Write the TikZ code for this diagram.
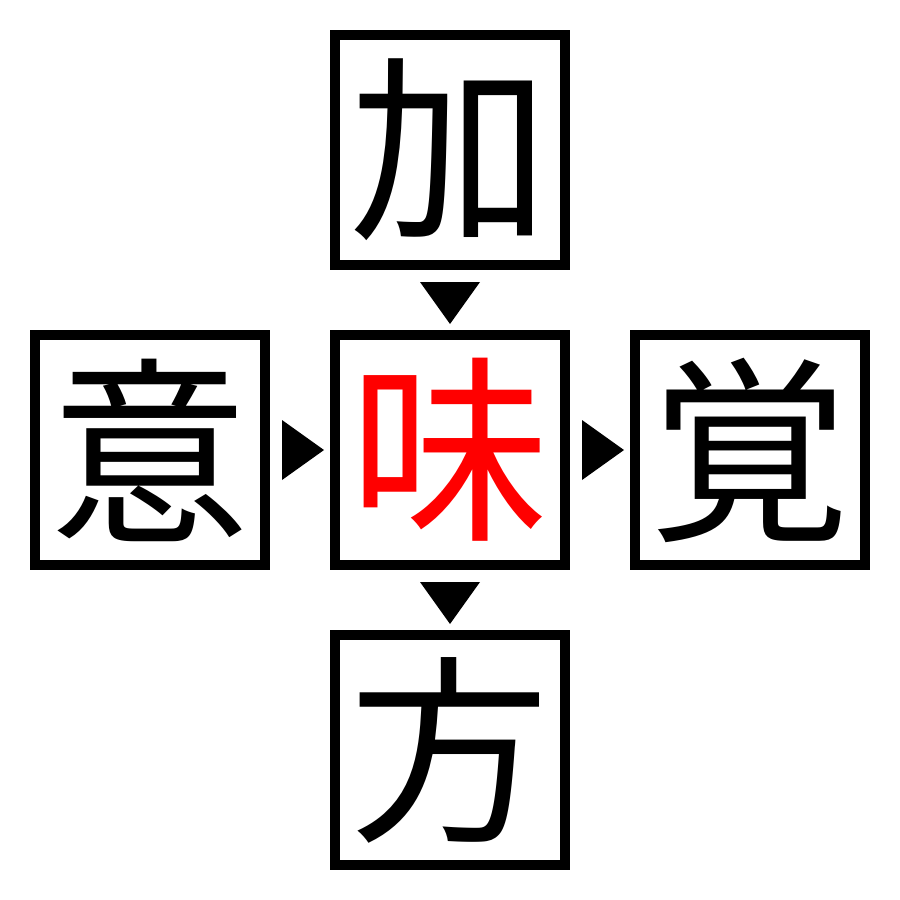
\documentclass[tikz,border=0pt]{standalone}
\usepackage{fontspec}
\usetikzlibrary{calc}
\newfontfamily\cjk{Noto Sans CJK JP}
\begin{document}
\begin{tikzpicture}[x=0.01cm,y=-0.01cm,
  kbox/.style={draw=black,line width=0.1cm,minimum size=2.3cm,inner sep=0pt,font=\cjk\fontsize{57}{57}\selectfont},
  tri/.style={fill=black,draw=none}]
\useasboundingbox (0,0) rectangle (900,900);
\node[kbox] (top) at (450,150) {加};
\node[kbox,text=red] (mid) at (450,450) {味};
\node[kbox] (left) at (150,450) {意};
\node[kbox] (right) at (750,450) {覚};
\node[kbox] (bot) at (450,750) {方};
\coordinate (a1) at ($(top.south)!0.5!(mid.north)+(0,3)$);
\coordinate (a2) at ($(mid.south)!0.5!(bot.north)+(0,3)$);
\coordinate (a3) at ($(left.east)!0.5!(mid.west)+(3,0)$);
\coordinate (a4) at ($(mid.east)!0.5!(right.west)+(3,0)$);
\fill[tri] ($(a1)+(-30,-21)$) -- ($(a1)+(30,-21)$) -- ($(a1)+(0,21)$) -- cycle;
\fill[tri] ($(a2)+(-30,-21)$) -- ($(a2)+(30,-21)$) -- ($(a2)+(0,21)$) -- cycle;
\fill[tri] ($(a3)+(-21,-30)$) -- ($(a3)+(-21,30)$) -- ($(a3)+(21,0)$) -- cycle;
\fill[tri] ($(a4)+(-21,-30)$) -- ($(a4)+(-21,30)$) -- ($(a4)+(21,0)$) -- cycle;
\end{tikzpicture}
\end{document}
